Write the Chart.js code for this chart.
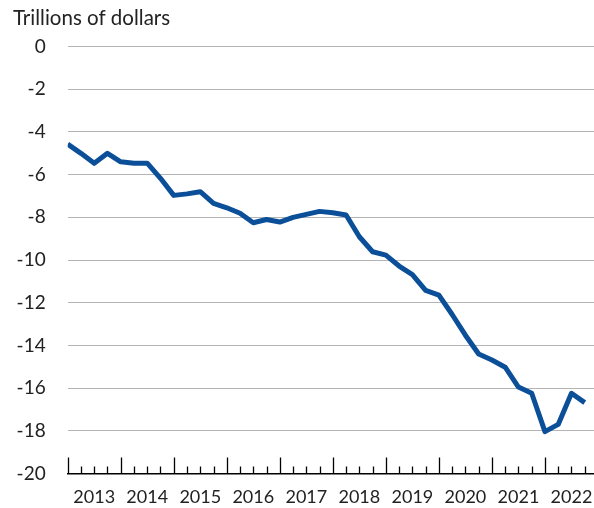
<!DOCTYPE html>
<html>
<head>
<meta charset="utf-8">
<script src="https://cdn.jsdelivr.net/npm/chart.js@4/dist/chart.umd.min.js"></script>
<style>
  html, body { margin: 0; padding: 0; background: #fff; }
  #wrap { position: relative; width: 594px; height: 508px; }
</style>
</head>
<body>
<div id="wrap"><canvas id="chart_debt"></canvas></div>
<script>
// quarterly values, first quarter of 2013 through third quarter of 2022
var years = [2013, 2014, 2015, 2016, 2017, 2018, 2019, 2020, 2021, 2022];
var values = [
  -4.57, -5.0, -5.47, -5.0, -5.4, -5.46, -5.46, -6.17, -6.97, -6.9,
  -6.8, -7.35, -7.55, -7.81, -8.25, -8.1, -8.22, -8.0, -7.86, -7.72,
  -7.78, -7.89, -8.91, -9.61, -9.77, -10.28, -10.68, -11.42, -11.64, -12.55,
  -13.52, -14.4, -14.68, -15.02, -15.95, -16.24, -18.04, -17.7, -16.24, -16.68
];
var yTicks = [0, -2, -4, -6, -8, -10, -12, -14, -16, -18, -20];

var FONT = 'Lato, "Liberation Sans", sans-serif';
var TEXT = '#222222';

var points = values.map(function(v, i) { return { x: i, y: v }; });

var chart_debt = new Chart(document.getElementById('chart_debt'), {
    type: 'line',
    data: {
        datasets: [{
            label: 'Net international investment position',
            data: points,
            borderColor: '#0b4f99',
            borderWidth: 5,
            pointRadius: 0,
            tension: 0,
            borderJoinStyle: 'round',
            borderCapStyle: 'butt'
        }]
    },
    options: {
        animation: false,
        responsive: true,
        maintainAspectRatio: false,
        layout: { padding: { left: 13, right: 0, top: 0, bottom: 0 } },
        plugins: {
            legend: { display: false },
            tooltip: { enabled: false },
            title: {
                display: true,
                text: 'Trillions of dollars',
                align: 'start',
                color: TEXT,
                font: { family: FONT, size: 20.5, weight: 'normal' },
                padding: { top: 6, bottom: 16 }
            }
        },
        scales: {
            x: {
                type: 'linear',
                min: 0,
                max: 39.7,
                grid: { display: false, drawTicks: false },
                border: { display: true, color: '#000000', width: 1.5 },
                afterBuildTicks: function(scale) {
                    scale.ticks = years.map(function(y, k) { return { value: 4 * k + 2 }; });
                },
                afterFit: function(scale) { scale.height = 34.5; },
                ticks: {
                    autoSkip: false,
                    maxRotation: 0,
                    padding: 0,
                    color: TEXT,
                    font: { family: FONT, size: 18, lineHeight: 2.6 },
                    callback: function(value) {
                        return years[Math.round((value - 2) / 4)];
                    }
                }
            },
            y: {
                type: 'linear',
                min: -20,
                max: 0,
                grid: { color: '#b4b4b4', lineWidth: 1, drawTicks: false },
                border: { display: false },
                afterBuildTicks: function(scale) {
                    scale.ticks = yTicks.map(function(v) { return { value: v }; });
                },
                afterFit: function(scale) { scale.width = 54.7; },
                ticks: {
                    padding: 22,
                    color: TEXT,
                    font: { family: FONT, size: 19 }
                }
            }
        }
    },
    plugins: [{
        id: 'quarterTicks',
        afterDraw: function(chart) {
            var ctx = chart.ctx;
            var xs = chart.scales.x;
            var bottom = chart.chartArea.bottom;
            ctx.save();
            ctx.strokeStyle = '#000000';
            ctx.lineWidth = 1.3;
            for (var i = 0; i < values.length; i++) {
                var px = Math.round(xs.getPixelForValue(i)) + 0.5;
                var len = (i % 4 === 0) ? 16 : 7;
                ctx.beginPath();
                ctx.moveTo(px, bottom);
                ctx.lineTo(px, bottom - len);
                ctx.stroke();
            }
            ctx.restore();
        }
    }]
});
</script>
</body>
</html>
